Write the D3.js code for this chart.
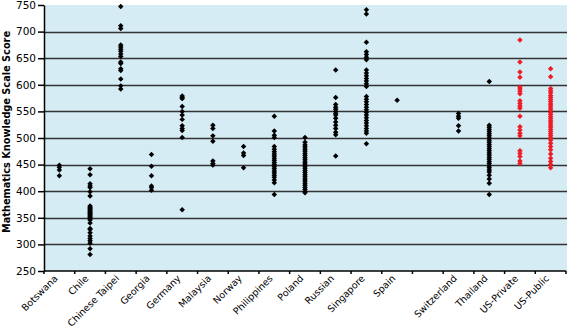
<!DOCTYPE html>
<html>
<head>
    <meta charset="utf-8">
    <title>Mathematics knowledge scale score by country</title>
    <style>
        body { margin: 0; background: #fff; }
        svg { display: block; }
        .tick text { fill: #000; }
    </style>
    <script src="https://d3js.org/d3.v7.min.js"></script>
</head>
<body>
<script type="application/javascript">
  // one blank slot between Spain and Switzerland, as in the original
  var categories = ["Botswana", "Chile", "Chinese Taipei", "Georgia", "Germany", "Malaysia", "Norway",
                    "Philippines", "Poland", "Russian", "Singapore", "Spain", "", "Switzerland",
                    "Thailand", "US-Private", "US-Public"];
  var yTicks = [250, 300, 350, 400, 450, 500, 550, 600, 650, 700, 750];

  var botswana = [449, 445, 440, 429];
  var chile = [442, 431, 414, 410, 407, 399, 391, 372, 370, 368, 366, 364, 362, 360, 358, 356, 354,
               352, 350, 348, 346, 340, 330, 328, 322, 316, 311, 307, 302, 292, 281];
  var chineseTaipei = [747, 711, 706, 675, 671, 667, 663, 658, 653, 643, 640, 630, 627, 611, 598, 592];
  var georgia = [469, 447, 429, 410, 407, 402];
  var germany = [579, 576, 574, 559, 550, 543, 535, 523, 518, 514, 501, 365];
  var malaysia = [524, 518, 504, 494, 457, 452, 449];
  var norway = [484, 472, 467, 444];
  var philippines = [541, 513, 505, 501, 484, 479, 474, 470, 466, 462, 458, 454, 450, 446, 442, 438,
                     434, 430, 426, 421, 416, 394];
  var poland = [501, 492, 487, 483, 479, 475, 471, 467, 463, 459, 455, 451, 447, 443, 439, 435, 431,
                427, 423, 419, 415, 411, 407, 403, 399, 397];
  var russian = [628, 576, 563, 558, 554, 550, 546, 543, 537, 530, 524, 518, 511, 506, 466];
  var singapore = [741, 733, 680, 662, 657, 652, 647, 628, 622, 617, 612, 607, 602, 597, 578, 573, 568,
                   563, 558, 553, 548, 543, 538, 533, 528, 523, 518, 513, 509, 489];
  var spain = [571];
  var blank = [];
  var switzerland = [546, 541, 537, 523, 513];
  var thailand = [606, 524, 520, 516, 512, 508, 504, 500, 496, 492, 488, 484, 480, 476, 472, 468, 464,
                  460, 456, 452, 448, 444, 440, 436, 430, 423, 415, 394];
  var usPrivate = [684, 643, 624, 614, 596, 592, 588, 583, 570, 565, 560, 556, 541, 521, 515, 509, 504,
                   476, 471, 465, 457, 452];
  var usPublic = [630, 615, 593, 589, 585, 580, 576, 572, 568, 564, 560, 556, 552, 548, 544, 540, 536,
                  532, 528, 524, 520, 516, 512, 508, 504, 500, 496, 490, 484, 478, 470, 462, 456, 450, 444];

  var series = [botswana, chile, chineseTaipei, georgia, germany, malaysia, norway, philippines, poland,
                russian, singapore, spain, blank, switzerland, thailand, usPrivate, usPublic];

  var w = 567;
  var h = 326;
  var plotLeft = 44, plotRight = 566, plotTop = 5, plotBottom = 271;

  var svg = d3.select("body")
              .append("svg")
              .attr("width", w)
              .attr("height", h);

  var x = d3.scaleBand()
            .domain(d3.range(categories.length))
            .range([plotLeft, plotRight]);

  var y = d3.scaleLinear()
            .domain([250, 750])
            .range([plotBottom, plotTop]);

  // plot background
  svg.append("rect")
     .attr("x", plotLeft)
     .attr("y", plotTop)
     .attr("width", plotRight - plotLeft + 1)
     .attr("height", plotBottom - plotTop)
     .attr("fill", "#d5ecf5");

  // horizontal grid lines
  svg.append("g")
     .selectAll("line")
     .data(yTicks.filter(function (d) { return d > 250 && d < 750; }))
     .enter()
     .append("line")
     .attr("x1", plotLeft)
     .attr("x2", plotRight + 1)
     .attr("y1", function (d) { return Math.round(y(d)) + 0.5; })
     .attr("y2", function (d) { return Math.round(y(d)) + 0.5; })
     .attr("stroke", "#333")
     .attr("stroke-width", 1.5);

  // y axis
  var yAxis = svg.append("g")
                 .attr("transform", "translate(" + plotLeft + ",0)")
                 .call(d3.axisLeft(y).tickValues(yTicks).tickSize(6).tickSizeOuter(0));
  yAxis.select(".domain").attr("stroke", "#000").attr("stroke-width", 1.5);
  yAxis.selectAll(".tick line").attr("stroke", "#000").attr("stroke-width", 1.5);
  yAxis.selectAll(".tick text")
       .attr("x", -8)
       .attr("font-family", "DejaVu Sans")
       .attr("font-size", 10.5);

  // x axis: ticks on band boundaries, labels at band centres
  var xAxis = svg.append("g")
                 .attr("transform", "translate(0," + plotBottom + ")");
  xAxis.append("line")
       .attr("x1", plotLeft)
       .attr("x2", plotRight)
       .attr("stroke", "#000")
       .attr("stroke-width", 1.5);
  xAxis.selectAll("line.tk")
       .data(d3.range(categories.length + 1))
       .enter()
       .append("line")
       .attr("class", "tk")
       .attr("x1", function (i) { return plotLeft + i * x.step(); })
       .attr("x2", function (i) { return plotLeft + i * x.step(); })
       .attr("y1", 0)
       .attr("y2", 3)
       .attr("stroke", "#000")
       .attr("stroke-width", 1.5);
  xAxis.selectAll("text")
       .data(categories)
       .enter()
       .append("text")
       .attr("transform", function (d, i) {
         return "translate(" + (x(i) + x.bandwidth() / 2 - 1) + ",8) rotate(-45)";
       })
       .attr("text-anchor", "end")
       .attr("font-family", "DejaVu Sans")
       .attr("font-size", 9.5)
       .attr("fill", "#000")
       .text(function (d) { return d; });

  // y title
  svg.append("text")
     .attr("transform", "translate(10,132) rotate(-90)")
     .attr("text-anchor", "middle")
     .attr("font-family", "DejaVu Sans")
     .attr("font-weight", "bold")
     .attr("font-size", 10)
     .attr("textLength", 202)
     .attr("lengthAdjust", "spacingAndGlyphs")
     .attr("fill", "#000")
     .text("Mathematics Knowledge Scale Score");

  // points
  var diamond = d3.symbol().type(d3.symbolSquare).size(15);
  var groups = svg.append("g")
                  .selectAll("g")
                  .data(series)
                  .enter()
                  .append("g")
                  .attr("fill", function (d, i) {
                    return categories[i].indexOf("US-") === 0 ? "#ee1c25" : "#000";
                  });
  groups.selectAll("path")
        .data(function (d, i) {
          return d.map(function (v) { return { i: i, v: v }; });
        })
        .enter()
        .append("path")
        .attr("d", diamond)
        .attr("transform", function (d) {
          return "translate(" + (x(d.i) + x.bandwidth() / 2) + "," + y(d.v) + ") rotate(45)";
        });
</script>
</body>
</html>
